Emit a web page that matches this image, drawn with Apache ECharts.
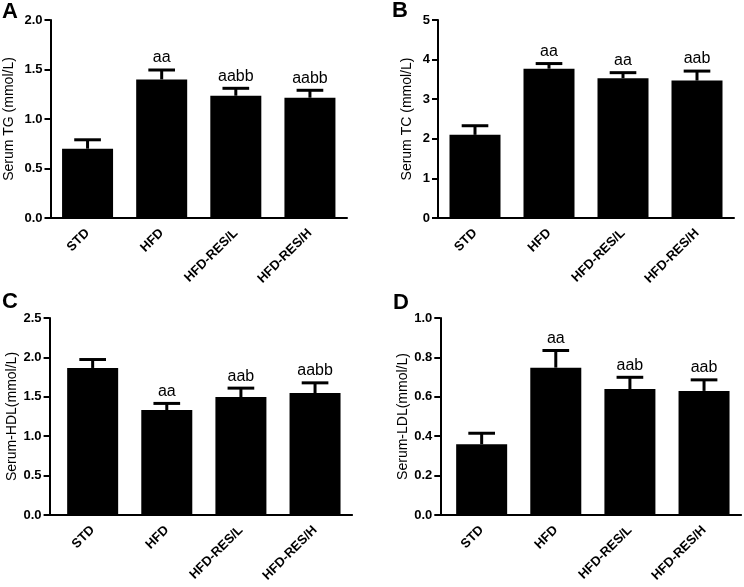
<!DOCTYPE html>
<html>
<head>
<meta charset="utf-8">
<script src="https://cdn.jsdelivr.net/npm/echarts@6/dist/echarts.min.js"></script>
<style>html,body{margin:0;padding:0;background:#fff}#c{width:744px;height:587px}</style>
</head>
<body>
<div id="c"></div>
<script>
const categories = ['STD', 'HFD', 'HFD-RES/L', 'HFD-RES/H'];

const tgMean = [0.70, 1.40, 1.235, 1.215];
const tgErr = [0.09, 0.095, 0.075, 0.075];
const tgMarks = ['', 'aa', 'aabb', 'aabb'];

const tcMean = [2.10, 3.77, 3.53, 3.47];
const tcErr = [0.23, 0.13, 0.14, 0.24];
const tcMarks = ['', 'aa', 'aa', 'aab'];

const hdlMean = [1.866, 1.332, 1.496, 1.547];
const hdlErr = [0.107, 0.084, 0.114, 0.13];
const hdlMarks = ['', 'aa', 'aab', 'aabb'];

const ldlMean = [0.359, 0.748, 0.639, 0.630];
const ldlErr = [0.056, 0.087, 0.060, 0.056];
const ldlMarks = ['', 'aa', 'aab', 'aab'];

const panelLetters = ['A', 'B', 'C', 'D'];
const axisNames = ['Serum TG (mmol/L)', 'Serum TC (mmol/L)', 'Serum-HDL(mmol/L)', 'Serum-LDL(mmol/L)'];
const yMax = [2, 5, 2.5, 1];
const yInterval = [0.5, 1, 0.5, 0.2];
const yDecimals = [1, 0, 1, 1];

const FONT = '"Liberation Sans", Arial, sans-serif';

const panels = [
  {mean: tgMean, err: tgErr, marks: tgMarks, grid: {left: 50.5, top: 20, width: 296.5, height: 198}, yOffset: 0, nameGap: 34, letter: {left: 2, top: 1}},
  {mean: tcMean, err: tcErr, marks: tcMarks, grid: {left: 438, top: 20, width: 296, height: 198}, yOffset: 0, nameGap: 24, letter: {left: 392, top: 0}},
  {mean: hdlMean, err: hdlErr, marks: hdlMarks, grid: {left: 55.6, top: 318, width: 296.5, height: 197}, yOffset: 6, nameGap: 30, letter: {left: 2, top: 291}},
  {mean: ldlMean, err: ldlErr, marks: ldlMarks, grid: {left: 444.6, top: 318, width: 296.5, height: 197}, yOffset: 4.3, nameGap: 26, letter: {left: 393, top: 292}}
];

const grids = [], xAxes = [], yAxes = [], series = [], titles = [];

panels.forEach((p, i) => {
  const gi = grids.length;
  grids.push(Object.assign({containLabel: false}, p.grid));
  titles.push({
    text: panelLetters[i], left: p.letter.left, top: p.letter.top, padding: 0,
    textStyle: {fontFamily: FONT, fontWeight: 'bold', fontSize: 22, color: '#000'}
  });
  xAxes.push({
    type: 'category', gridIndex: gi, data: categories,
    axisLine: {lineStyle: {color: '#000', width: 2}},
    axisTick: {alignWithLabel: true, length: 6, lineStyle: {color: '#000', width: 2}},
    axisLabel: {rotate: 45, margin: 13, interval: 0, color: '#000', fontFamily: FONT, fontWeight: 'bold', fontSize: 13},
    splitLine: {show: false}
  });
  const dec = yDecimals[i];
  yAxes.push({
    type: 'value', gridIndex: gi, min: 0, max: yMax[i], interval: yInterval[i], offset: p.yOffset,
    name: axisNames[i], nameLocation: 'middle', nameGap: p.nameGap,
    nameTextStyle: {fontFamily: FONT, fontSize: 14, color: '#000'},
    axisLine: {show: true, lineStyle: {color: '#000', width: 2}},
    axisTick: {show: true, length: 6, lineStyle: {color: '#000', width: 2}},
    axisLabel: {margin: 8, color: '#000', fontFamily: FONT, fontWeight: 'bold', fontSize: 13,
      formatter: v => v.toFixed(dec)},
    splitLine: {show: false}
  });
  const ai = xAxes.length - 1;
  series.push({
    type: 'bar', xAxisIndex: ai, yAxisIndex: ai, data: p.mean, barWidth: 51,
    itemStyle: {color: '#000', borderColor: '#000', borderWidth: 0}, z: 2
  });
  series.push({
    type: 'custom', xAxisIndex: ai, yAxisIndex: ai, z: 3,
    data: p.mean.map((m, k) => [k, m, p.err[k]]),
    renderItem: (params, api) => {
      const x = api.value(0), m = api.value(1), e = api.value(2);
      const base = api.coord([x, m]);
      const top = api.coord([x, m + e]);
      const half = api.size([1, 0])[0] * 0.18;
      const mark = p.marks[params.dataIndex];
      return {
        type: 'group',
        children: [
          {type: 'line', shape: {x1: base[0], y1: base[1], x2: top[0], y2: top[1]}, style: {stroke: '#000', lineWidth: 3}},
          {type: 'line', shape: {x1: top[0] - half, y1: top[1], x2: top[0] + half, y2: top[1]}, style: {stroke: '#000', lineWidth: 3}},
          {type: 'text', x: top[0], y: top[1] - 4, style: {text: mark, fill: '#000', font: '16px ' + FONT, align: 'center', verticalAlign: 'bottom'}}
        ]
      };
    }
  });
  if (p.yOffset > 0) {
    const hg = grids.length;
    grids.push({left: p.grid.left - p.yOffset, top: p.grid.top, width: p.yOffset + 1, height: p.grid.height});
    xAxes.push({type: 'value', gridIndex: hg, min: 0, max: 1, axisLine: {show: true, onZero: false, lineStyle: {color: '#000', width: 2}},
      axisTick: {show: false}, axisLabel: {show: false}, splitLine: {show: false}});
    yAxes.push({type: 'value', gridIndex: hg, min: 0, max: 1, show: false});
  }
});

const chart = echarts.init(document.getElementById('c'), null, {renderer: 'canvas'});
chart.setOption({
  backgroundColor: '#fff',
  animation: false,
  title: titles,
  grid: grids,
  xAxis: xAxes,
  yAxis: yAxes,
  series: series
});
</script>
</body>
</html>
